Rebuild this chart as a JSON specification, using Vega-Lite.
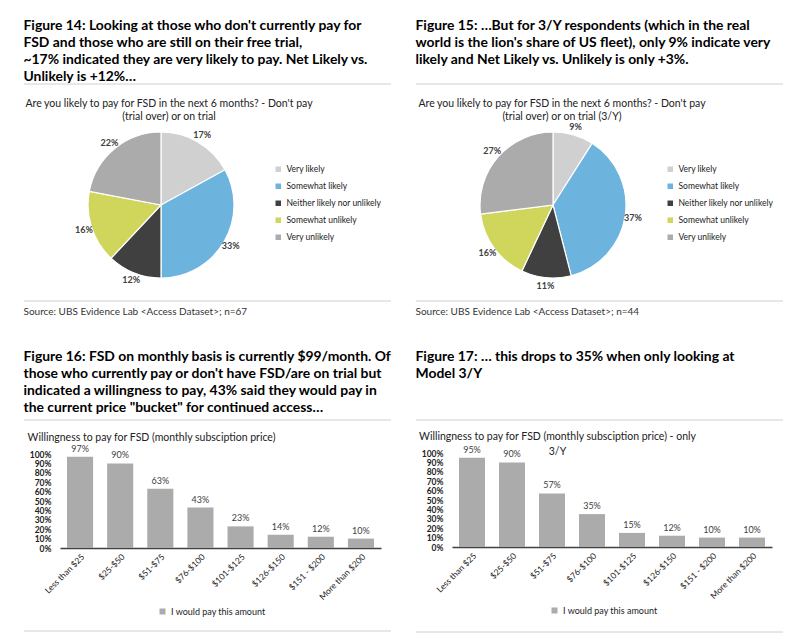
{
  "$schema": "https://vega.github.io/schema/vega-lite/v6.json",
  "background": "white",
  "padding": {"left": 23, "top": 18, "right": 0, "bottom": 0},
  "config": {"view": {"stroke": null}, "font": "Lato", "title": {"font": "Lato"}, "axis": {"labelFont": "Lato"}, "legend": {"labelFont": "Lato"}},
  "spacing": 32,
  "resolve": {"scale": {"color": "independent"}, "legend": {"color": "independent"}},
  "vconcat": [
    {
      "spacing": 23,
      "resolve": {"scale": {"color": "independent"}, "legend": {"color": "independent"}},
      "hconcat": [
        {
          "title": {"text": ["Figure 14: Looking at those who don't currently pay for", "FSD and those who are still on their free trial,", "~17% indicated they are very likely to pay. Net Likely vs.", "Unlikely is +12%…"], "anchor": "start", "fontSize": 13.9, "fontWeight": "bold", "lineHeight": 17, "color": "#000000", "offset": 0},
          "spacing": 0,
          "align": "none",
          "resolve": {"scale": {"color": "independent"}, "legend": {"color": "independent"}},
          "vconcat": [
            {"width": 367, "height": 15, "data": {"values": [{"p": 1}]}, "mark": {"type": "rule", "color": "#d0d0d0"}, "encoding": {"y": {"field": "p", "type": "quantitative", "axis": null, "scale": {"domain": [0, 1]}}}},
            {
              "width": 274, "height": 180,
              "title": {"text": ["Are you likely to pay for FSD in the next 6 months? - Don't pay", "(trial over) or on trial"], "fontSize": 10.5, "fontWeight": "normal", "anchor": "middle", "frame": "group", "dx": 8, "lineHeight": 12.5, "offset": -7, "color": "#222222"},
              "data": {"values": [
                {"category": "Very likely", "value": 0.17, "rank": 1},
                {"category": "Somewhat likely", "value": 0.33, "rank": 2},
                {"category": "Neither likely nor unlikely", "value": 0.12, "rank": 3},
                {"category": "Somewhat unlikely", "value": 0.16, "rank": 4},
                {"category": "Very unlikely", "value": 0.22, "rank": 5}
              ]},
              "encoding": {
                "theta": {"field": "value", "type": "quantitative", "stack": true},
                "order": {"field": "rank", "type": "quantitative"}
              },
              "layer": [
                {"mark": {"type": "arc", "radius": 73, "stroke": "white", "strokeWidth": 1.2},
                 "encoding": {"color": {"field": "category", "type": "nominal", "sort": null,
                   "scale": {"domain": ["Very likely", "Somewhat likely", "Neither likely nor unlikely", "Somewhat unlikely", "Very unlikely"], "range": ["#d0d0d0", "#6cb4de", "#404040", "#d0d65c", "#ababab"]},
                   "legend": {"orient": "none", "legendX": 250, "legendY": 50, "title": null, "labelFontSize": 8.5, "symbolType": "square", "symbolSize": 30, "rowPadding": 8, "labelColor": "#222222", "symbolStrokeWidth": 0}}}},
                {"mark": {"type": "text", "radius": 81, "fontSize": 9, "fontWeight": "bold", "color": "#404040"},
                 "encoding": {"text": {"field": "value", "type": "quantitative", "format": ".0%"}, "detail": {"field": "category"}}}
              ]
            },
            {"width": 367, "height": 6, "data": {"values": [{"p": 0}]}, "mark": {"type": "rule", "color": "#d0d0d0"}, "encoding": {"y": {"field": "p", "type": "quantitative", "axis": null, "scale": {"domain": [0, 1]}}},
             "title": {"text": "Source: UBS Evidence Lab <Access Dataset>; n=67", "orient": "bottom", "anchor": "start", "fontSize": 10, "fontWeight": "normal", "color": "#333333", "offset": 5}}
          ]
        },
        {
          "title": {"text": ["Figure 15: …But for 3/Y respondents (which in the real", "world is the lion's share of US fleet), only 9% indicate very", "likely and Net Likely vs. Unlikely is only +3%."], "anchor": "start", "fontSize": 13.9, "fontWeight": "bold", "lineHeight": 17, "color": "#000000", "offset": 17},
          "spacing": 0,
          "align": "none",
          "resolve": {"scale": {"color": "independent"}, "legend": {"color": "independent"}},
          "vconcat": [
            {"width": 367, "height": 15, "data": {"values": [{"p": 1}]}, "mark": {"type": "rule", "color": "#d0d0d0"}, "encoding": {"y": {"field": "p", "type": "quantitative", "axis": null, "scale": {"domain": [0, 1]}}}},
            {
              "width": 274, "height": 180,
              "title": {"text": ["Are you likely to pay for FSD in the next 6 months? - Don't pay", "(trial over) or on trial (3/Y)"], "fontSize": 10.5, "fontWeight": "normal", "anchor": "middle", "frame": "group", "dx": 9, "lineHeight": 12.5, "offset": -7, "color": "#222222"},
              "data": {"values": [
                {"category": "Very likely", "value": 0.09, "rank": 1},
                {"category": "Somewhat likely", "value": 0.37, "rank": 2},
                {"category": "Neither likely nor unlikely", "value": 0.11, "rank": 3},
                {"category": "Somewhat unlikely", "value": 0.16, "rank": 4},
                {"category": "Very unlikely", "value": 0.27, "rank": 5}
              ]},
              "encoding": {
                "theta": {"field": "value", "type": "quantitative", "stack": true},
                "order": {"field": "rank", "type": "quantitative"}
              },
              "layer": [
                {"mark": {"type": "arc", "radius": 73, "stroke": "white", "strokeWidth": 1.2},
                 "encoding": {"color": {"field": "category", "type": "nominal", "sort": null,
                   "scale": {"domain": ["Very likely", "Somewhat likely", "Neither likely nor unlikely", "Somewhat unlikely", "Very unlikely"], "range": ["#d0d0d0", "#6cb4de", "#404040", "#d0d65c", "#ababab"]},
                   "legend": {"orient": "none", "legendX": 250, "legendY": 50, "title": null, "labelFontSize": 8.5, "symbolType": "square", "symbolSize": 30, "rowPadding": 8, "labelColor": "#222222", "symbolStrokeWidth": 0}}}},
                {"mark": {"type": "text", "radius": 81, "fontSize": 9, "fontWeight": "bold", "color": "#404040"},
                 "encoding": {"text": {"field": "value", "type": "quantitative", "format": ".0%"}, "detail": {"field": "category"}}}
              ]
            },
            {"width": 367, "height": 6, "data": {"values": [{"p": 0}]}, "mark": {"type": "rule", "color": "#d0d0d0"}, "encoding": {"y": {"field": "p", "type": "quantitative", "axis": null, "scale": {"domain": [0, 1]}}},
             "title": {"text": "Source: UBS Evidence Lab <Access Dataset>; n=44", "orient": "bottom", "anchor": "start", "fontSize": 10, "fontWeight": "normal", "color": "#333333", "offset": 5}}
          ]
        }
      ]
    },
    {
      "spacing": 23,
      "resolve": {"scale": {"color": "independent"}, "legend": {"color": "independent"}},
      "hconcat": [
        {
          "title": {"text": ["Figure 16: FSD on monthly basis is currently $99/month. Of", "those who currently pay or don't have FSD/are on trial but", "indicated a willingness to pay, 43% said they would pay in", "the current price \"bucket\" for continued access…"], "anchor": "start", "fontSize": 13.9, "fontWeight": "bold", "lineHeight": 17, "color": "#000000", "offset": 5},
          "spacing": 0,
          "align": "none",
          "resolve": {"scale": {"color": "independent"}, "legend": {"color": "independent"}},
          "vconcat": [
            {"width": 367, "height": 13, "data": {"values": [{"p": 1}]}, "mark": {"type": "rule", "color": "#d0d0d0"}, "encoding": {"y": {"field": "p", "type": "quantitative", "axis": null, "scale": {"domain": [0, 1]}}}},
            {
              "width": 357, "height": 94,
              "title": {"text": "Willingness to pay for FSD (monthly subsciption price)", "fontSize": 10.5, "fontWeight": "normal", "anchor": "middle", "frame": "group", "dx": -51, "offset": 1, "color": "#222222"},
              "data": {"values": [
                {"range": "Less than $25", "value": 0.97},
                {"range": "$25-$50", "value": 0.90},
                {"range": "$51-$75", "value": 0.63},
                {"range": "$76-$100", "value": 0.43},
                {"range": "$101-$125", "value": 0.23},
                {"range": "$126-$150", "value": 0.14},
                {"range": "$151 - $200", "value": 0.12},
                {"range": "More than $200", "value": 0.10}
              ]},
              "encoding": {
                "x": {"field": "range", "type": "nominal", "sort": null, "title": null, "scale": {"range": [36, 357], "paddingInner": 0.35, "paddingOuter": 0.175},
                  "axis": {"labelAngle": -45, "ticks": false, "domainColor": "#404040", "domainWidth": 1.5, "labelFontSize": 8.5, "labelColor": "#222222", "labelPadding": 4}},
                "y": {"field": "value", "type": "quantitative", "scale": {"domain": [0, 1]},
                  "axis": {"format": ".0%", "values": [0, 0.1, 0.2, 0.3, 0.4, 0.5, 0.6, 0.7, 0.8, 0.9, 1], "grid": false, "domain": false, "ticks": false, "labelFontSize": 8.5, "labelFontWeight": "bold", "labelPadding": 9, "offset": -36, "title": null, "labelColor": "#222222"}}
              },
              "layer": [
                {"mark": {"type": "bar"},
                 "encoding": {"color": {"datum": "I would pay this amount", "type": "nominal", "scale": {"range": ["#ababab"]},
                   "legend": {"orient": "none", "legendX": 134, "legendY": 153, "title": null, "labelFontSize": 9, "symbolType": "square", "symbolSize": 36, "labelColor": "#222222", "symbolStrokeWidth": 0}}}},
                {"mark": {"type": "text", "baseline": "bottom", "dy": -3, "fontSize": 9, "color": "#404040"},
                 "encoding": {"text": {"field": "value", "type": "quantitative", "format": ".0%"}}}
              ]
            },
            {"width": 367, "height": 14, "data": {"values": [{"p": 0}]}, "mark": {"type": "rule", "color": "#d0d0d0"}, "encoding": {"y": {"field": "p", "type": "quantitative", "axis": null, "scale": {"domain": [0, 1]}}}}
          ]
        },
        {
          "title": {"text": ["Figure 17: … this drops to 35% when only looking at", "Model 3/Y"], "anchor": "start", "fontSize": 13.9, "fontWeight": "bold", "lineHeight": 17, "color": "#000000", "offset": 39},
          "spacing": 0,
          "align": "none",
          "resolve": {"scale": {"color": "independent"}, "legend": {"color": "independent"}},
          "vconcat": [
            {"width": 367, "height": 11, "data": {"values": [{"p": 1}]}, "mark": {"type": "rule", "color": "#d0d0d0"}, "encoding": {"y": {"field": "p", "type": "quantitative", "axis": null, "scale": {"domain": [0, 1]}}}},
            {
              "width": 357, "height": 94,
              "title": {"text": ["Willingness to pay for FSD (monthly subsciption price) - only", "3/Y"], "fontSize": 10.5, "fontWeight": "normal", "anchor": "middle", "frame": "group", "dx": -37, "offset": -11.5, "lineHeight": 15, "color": "#222222"},
              "data": {"values": [
                {"range": "Less than $25", "value": 0.95},
                {"range": "$25-$50", "value": 0.90},
                {"range": "$51-$75", "value": 0.57},
                {"range": "$76-$100", "value": 0.35},
                {"range": "$101-$125", "value": 0.15},
                {"range": "$126-$150", "value": 0.12},
                {"range": "$151 - $200", "value": 0.10},
                {"range": "More than $200", "value": 0.10}
              ]},
              "encoding": {
                "x": {"field": "range", "type": "nominal", "sort": null, "title": null, "scale": {"range": [36, 356], "paddingInner": 0.35, "paddingOuter": 0.175},
                  "axis": {"labelAngle": -45, "ticks": false, "domainColor": "#404040", "domainWidth": 1.5, "labelFontSize": 8.5, "labelColor": "#222222", "labelPadding": 4}},
                "y": {"field": "value", "type": "quantitative", "scale": {"domain": [0, 1]},
                  "axis": {"format": ".0%", "values": [0, 0.1, 0.2, 0.3, 0.4, 0.5, 0.6, 0.7, 0.8, 0.9, 1], "grid": false, "domain": false, "ticks": false, "labelFontSize": 8.5, "labelFontWeight": "bold", "labelPadding": 9, "offset": -36, "title": null, "labelColor": "#222222"}}
              },
              "layer": [
                {"mark": {"type": "bar"},
                 "encoding": {"color": {"datum": "I would pay this amount", "type": "nominal", "scale": {"range": ["#ababab"]},
                   "legend": {"orient": "none", "legendX": 134, "legendY": 153, "title": null, "labelFontSize": 9, "symbolType": "square", "symbolSize": 36, "labelColor": "#222222", "symbolStrokeWidth": 0}}}},
                {"mark": {"type": "text", "baseline": "bottom", "dy": -3, "fontSize": 9, "color": "#404040"},
                 "encoding": {"text": {"field": "value", "type": "quantitative", "format": ".0%"}}}
              ]
            },
            {"width": 367, "height": 16, "data": {"values": [{"p": 0}]}, "mark": {"type": "rule", "color": "#d0d0d0"}, "encoding": {"y": {"field": "p", "type": "quantitative", "axis": null, "scale": {"domain": [0, 1]}}}}
          ]
        }
      ]
    }
  ]
}
